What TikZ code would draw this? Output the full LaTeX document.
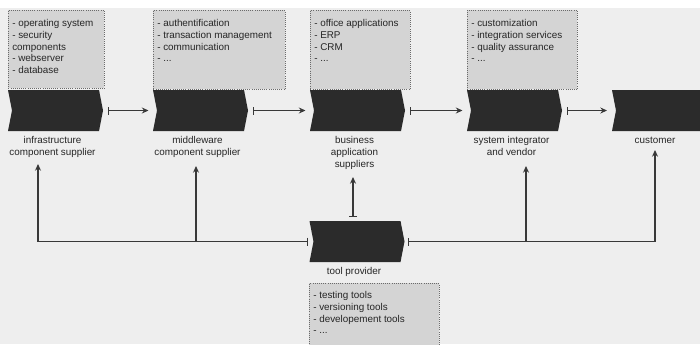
\documentclass[tikz,border=0pt]{standalone}
\usepackage{fontspec}
\setmainfont{Liberation Sans}
\usetikzlibrary{shapes.symbols,arrows.meta,calc}
\definecolor{chev}{HTML}{2B2B2B}
\definecolor{boxfill}{HTML}{D4D4D4}
\definecolor{boxline}{HTML}{6A6A6A}
\definecolor{bgc}{HTML}{EEEEEE}
\definecolor{linec}{HTML}{383838}
\begin{document}
\begin{tikzpicture}[x=0.75pt,y=-0.75pt,
  chevron/.style={signal, signal to=east, signal from=west, signal pointer angle=158,
    fill=chev, draw=none, minimum width=71.25pt, minimum height=30.75pt, inner sep=0pt},
  infobox/.style={draw=boxline, densely dotted, fill=boxfill, line width=0.6pt, inner sep=0pt, anchor=north west},
  boxtext/.style={anchor=north west, align=left, font=\fontsize{7.4}{8.7}\selectfont, inner sep=0pt, text=black!85},
  lab/.style={anchor=north, align=center, font=\fontsize{7.4}{9}\selectfont, inner sep=0pt, text=black!85},
  conn/.style={draw=linec, line width=1pt},
  flow/.style={conn, {Bar[width=6pt,line width=1pt]}-{Stealth[length=5pt,width=4.5pt]}},
  up/.style={conn, -{Stealth[length=5pt,width=4.5pt]}}
  ]
\useasboundingbox (0,0) rectangle (700,344);
\fill[white] (0,0) rectangle (700,344);
\fill[bgc] (0,8) rectangle (700,344);

% info boxes
\node[infobox, minimum width=72pt, minimum height=58.5pt] (b1) at (8,10) {};
\node[infobox, minimum width=99pt, minimum height=59.25pt] (b2) at (153,10) {};
\node[infobox, minimum width=75pt, minimum height=59.25pt] (b3) at (310,10) {};
\node[infobox, minimum width=82.5pt, minimum height=59.25pt] (b4) at (467,10) {};
\node[infobox, minimum width=97.5pt, minimum height=48pt] (b5) at (309,283) {};

\node[boxtext] (t1) at ($(b1.north west)+(4,9.5)$) {- operating system\\- security\\components\\- webserver\\- database};
\node[boxtext] (t2) at ($(b2.north west)+(4,9.5)$) {- authentification\\- transaction management\\- communication\\- ...};
\node[boxtext] (t3) at ($(b3.north west)+(4,9.5)$) {- office applications\\- ERP\\- CRM\\- ...};
\node[boxtext] (t4) at ($(b4.north west)+(4,9.5)$) {- customization\\- integration services\\- quality assurance\\- ...};
\node[boxtext] (t5) at ($(b5.north west)+(4,8.5)$) {- testing tools\\- versioning tools\\- developement tools\\- ...};

% chevrons
\node[chevron] (c1) at (55.5,110.5) {};
\node[chevron] (c2) at (200.5,110.5) {};
\node[chevron] (c3) at (357.5,110.5) {};
\node[chevron] (c4) at (514.5,110.5) {};
\node[chevron, minimum width=69pt] (c5) at (658,110.5) {};
\node[chevron] (tool) at (357,241.5) {};

% labels
\node[lab] (l1) at ($(c1.center)+(-3,26)$) {infrastructure\\component supplier};
\node[lab] (l2) at ($(c2.center)+(-3,26)$) {middleware\\component supplier};
\node[lab] (l3) at ($(c3.center)+(-3,26)$) {business\\application\\suppliers};
\node[lab] (l4) at ($(c4.center)+(-3,26)$) {system integrator\\and vendor};
\node[lab] (l5) at ($(c5.center)+(-3,26)$) {customer};
\node[lab] (lt) at ($(tool.center)+(-3,26)$) {tool provider};

% chain arrows
\draw[flow] ($(c1.center)+(52,0)$) -- ($(c2.center)+(-52,0)$);
\draw[flow] ($(c2.center)+(52,0)$) -- ($(c3.center)+(-52,0)$);
\draw[flow] ($(c3.center)+(52,0)$) -- ($(c4.center)+(-52,0)$);
\draw[flow] ($(c4.center)+(52,0)$) -- ($(c5.center)+(-51,0)$);

% tool provider connections
\coordinate (a1) at (38,164);
\coordinate (j2) at (196,241.5);
\coordinate (a2) at (196,166);
\coordinate (j4) at (526,241.5);
\coordinate (a4) at (526,166);
\coordinate (a5) at (655,150);
\coordinate (a3) at (353,177);

\draw[flow] ($(tool.center)+(-49,0)$) -| (a1);
\draw[up] (j2) -- (a2);
\draw[flow] ($(tool.center)+(51,0)$) -| (a5);
\draw[up] (j4) -- (a4);
\draw[flow] ($(tool.center)+(-4,-24.5)$) -- (a3);
\end{tikzpicture}
\end{document}
